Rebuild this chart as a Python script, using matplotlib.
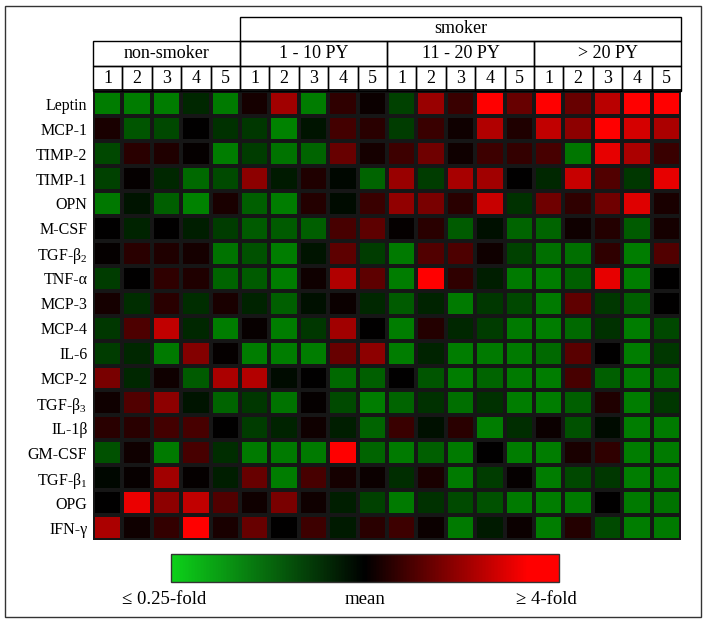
import numpy as np
import matplotlib
matplotlib.use("Agg")
import matplotlib.pyplot as plt
from matplotlib.colors import LinearSegmentedColormap, Normalize
from matplotlib.patches import Rectangle
from matplotlib.cm import ScalarMappable

plt.rcParams['font.family'] = ['Liberation Serif', 'DejaVu Serif']
plt.rcParams['mathtext.fontset'] = 'custom'
plt.rcParams['mathtext.rm'] = 'Liberation Serif'
plt.rcParams['mathtext.default'] = 'regular'

# row labels (markers)
markers = ['Leptin', 'MCP-1', 'TIMP-2', 'TIMP-1', 'OPN', 'M-CSF', 'TGF-β$_2$',
           'TNF-α', 'MCP-3', 'MCP-4', 'IL-6', 'MCP-2', 'TGF-β$_3$', 'IL-1β',
           'GM-CSF', 'TGF-β$_1$', 'OPG', 'IFN-γ']
groups = ['non-smoker', '1 - 10 PY', '11 - 20 PY', '> 20 PY']
subjects = ['1', '2', '3', '4', '5']

# relative expression, -1 = <=0.25-fold, 0 = mean, 1 = >=4-fold
values = [
    [-0.95, -0.95, -0.95, -0.30, -0.93, 0.08, 0.63, -0.95, 0.18, 0.04, -0.50, 0.60, 0.22, 1.00, 0.40, 1.00, 0.40, 0.72, 1.00, 1.00],
    [0.10, -0.65, -0.55, 0.00, -0.38, -0.42, -1.00, -0.15, 0.26, 0.16, -0.46, 0.22, 0.06, 0.69, 0.12, 0.75, 0.55, 1.00, 0.83, 0.67],
    [-0.55, 0.16, 0.12, 0.02, -0.96, -0.46, -0.88, -0.77, 0.40, 0.08, 0.24, 0.43, 0.06, 0.24, 0.20, 0.28, -0.90, 0.90, 0.67, 0.22],
    [-0.50, 0.02, -0.30, -0.80, -0.57, 0.55, -0.20, 0.12, -0.05, -0.77, 0.60, -0.46, 0.65, 0.63, 0.00, -0.30, 0.78, 0.32, -0.42, 0.90],
    [-0.92, -0.15, -0.73, -1.00, 0.10, -0.73, -0.96, 0.14, -0.08, 0.22, 0.57, 0.47, 0.16, 0.78, -0.38, 0.43, 0.18, 0.43, 0.87, 0.10],
    [0.00, -0.27, 0.00, -0.23, -0.46, -0.70, -0.70, -0.73, 0.28, 0.36, 0.02, 0.16, -0.70, -0.12, -0.77, -0.77, 0.06, 0.14, -0.70, 0.08],
    [0.02, 0.16, 0.12, 0.08, -0.88, -0.62, -0.96, -0.15, 0.36, -0.46, -0.93, 0.32, 0.30, 0.06, -0.50, -0.85, -0.85, 0.18, -0.96, 0.32],
    [-0.46, 0.00, 0.18, 0.12, -0.77, -0.70, -0.96, 0.06, 0.69, 0.36, -0.96, 1.00, 0.18, -0.23, -0.93, -0.96, -0.73, 0.90, -0.96, 0.00],
    [0.08, -0.35, 0.16, -0.35, 0.10, -0.27, -0.73, -0.12, 0.04, -0.30, -0.70, -0.27, -0.93, -0.42, -0.55, -0.93, 0.37, -0.42, -0.73, 0.00],
    [-0.42, 0.30, 0.75, -0.30, -0.96, 0.03, -0.96, -0.42, 0.63, 0.00, -0.96, 0.14, -0.30, -0.46, -0.93, -0.96, -0.80, -0.38, -0.96, -0.55],
    [-0.46, -0.30, -0.93, 0.51, 0.02, -0.96, -0.96, -0.96, 0.40, 0.55, -0.96, -0.27, -0.96, -0.93, -0.93, -0.80, 0.35, 0.00, -0.96, -0.42],
    [0.47, -0.30, 0.06, -0.70, 0.67, 0.70, -0.08, 0.00, -0.80, -0.73, 0.00, -0.65, -0.96, -0.77, -0.93, -0.96, 0.28, -0.73, -0.93, -0.77],
    [0.06, 0.32, 0.55, -0.15, -0.77, -0.42, -0.88, 0.02, -0.57, -0.96, -0.77, -0.38, -0.85, -0.38, -0.96, -0.96, -0.73, 0.12, -0.96, -0.42],
    [0.16, 0.16, 0.26, 0.28, 0.00, -0.46, -0.27, 0.06, -0.23, -0.77, 0.22, -0.12, 0.16, -0.96, -0.35, 0.04, -0.62, -0.08, -0.96, -0.93],
    [-0.62, 0.06, -0.93, 0.28, -0.35, -0.93, -0.93, -0.93, 1.00, -0.77, -0.93, -0.73, -0.93, 0.00, -0.96, -0.96, 0.10, 0.18, -0.96, -0.93],
    [-0.05, 0.03, 0.63, 0.02, -0.23, 0.40, -0.96, 0.28, 0.08, 0.04, -0.35, 0.10, -0.93, -0.46, 0.02, -0.96, -0.55, -0.42, -0.96, -0.93],
    [0.00, 0.92, 0.55, 0.75, 0.32, 0.06, 0.47, 0.06, -0.23, -0.50, -0.93, -0.38, -0.57, -0.62, -0.93, -0.96, -0.93, 0.00, -0.93, -0.88],
    [0.67, 0.06, 0.20, 1.00, 0.10, 0.40, 0.00, 0.24, -0.20, 0.16, 0.24, 0.04, -0.93, -0.20, 0.04, -0.96, 0.14, -0.57, -0.96, -0.93],
]

data = np.array(values)
n_rows, n_cols = data.shape
per_group = len(subjects)

cell_cmap = LinearSegmentedColormap.from_list(
    'gkr', [(0.0, (0, 0.51, 0)), (0.5, (0, 0, 0)), (1.0, (1, 0, 0))])
bar_cmap = LinearSegmentedColormap.from_list(
    'gkr_bar', [(0.0, (0.05, 0.82, 0.1)), (0.5, (0, 0, 0)), (0.92, (1, 0, 0)), (1.0, (1, 0, 0))])

W, H = 707, 621
fig = plt.figure(figsize=(W / 100, H / 100), dpi=100)

# outer frame
fig.patches.append(Rectangle((5 / W, 1 - 617 / H), 696 / W, 611 / H,
                             transform=fig.transFigure, fill=False,
                             edgecolor='#333333', lw=1.0))

ax = fig.add_axes([93 / W, 1 - 540 / H, 588 / W, 523.5 / H])
ax.pcolormesh(np.arange(n_cols + 1), np.arange(n_rows + 1), data,
              cmap=cell_cmap, vmin=-1, vmax=1,
              edgecolors='#161616', linewidth=1.5)
ax.set_xlim(0, n_cols)
ax.set_ylim(n_rows, -3)
for s in ax.spines.values():
    s.set_visible(False)
ax.set_xticks([])
ax.set_yticks(np.arange(n_rows) + 0.5)
ax.set_yticklabels(markers, fontsize=11.5)
ax.tick_params(axis='y', length=0, pad=4)

# header table
hdr = dict(fill=False, edgecolor='black', lw=1.0, clip_on=False)
ax.add_patch(Rectangle((per_group, -3), n_cols - per_group, 1, **hdr))
ax.text((per_group + n_cols) / 2, -2.5, 'smoker', ha='center', va='center', fontsize=13)
for g, name in enumerate(groups):
    x0 = g * per_group
    ax.add_patch(Rectangle((x0, -2), per_group, 1, **hdr))
    ax.text(x0 + per_group / 2, -1.5, name, ha='center', va='center', fontsize=13)
    for k, sub in enumerate(subjects):
        ax.add_patch(Rectangle((x0 + k, -1), 1, 1, **hdr))
        ax.text(x0 + k + 0.5, -0.5, sub, ha='center', va='center', fontsize=13)

# colour scale
cax = fig.add_axes([171 / W, 1 - 582 / H, 388 / W, 28 / H])
cb = fig.colorbar(ScalarMappable(norm=Normalize(-1, 1), cmap=bar_cmap),
                  cax=cax, orientation='horizontal', ticks=[])
cb.outline.set_linewidth(1.0)
cb.outline.set_edgecolor('#333333')

ty = 1 - 600 / H
fig.text(164 / W, ty, '≤ 0.25-fold', ha='center', va='center', fontsize=13.5)
fig.text(365 / W, ty, 'mean', ha='center', va='center', fontsize=13.5)
fig.text(546 / W, ty, '≥ 4-fold', ha='center', va='center', fontsize=13.5)

fig.savefig('out.png', dpi=100)
